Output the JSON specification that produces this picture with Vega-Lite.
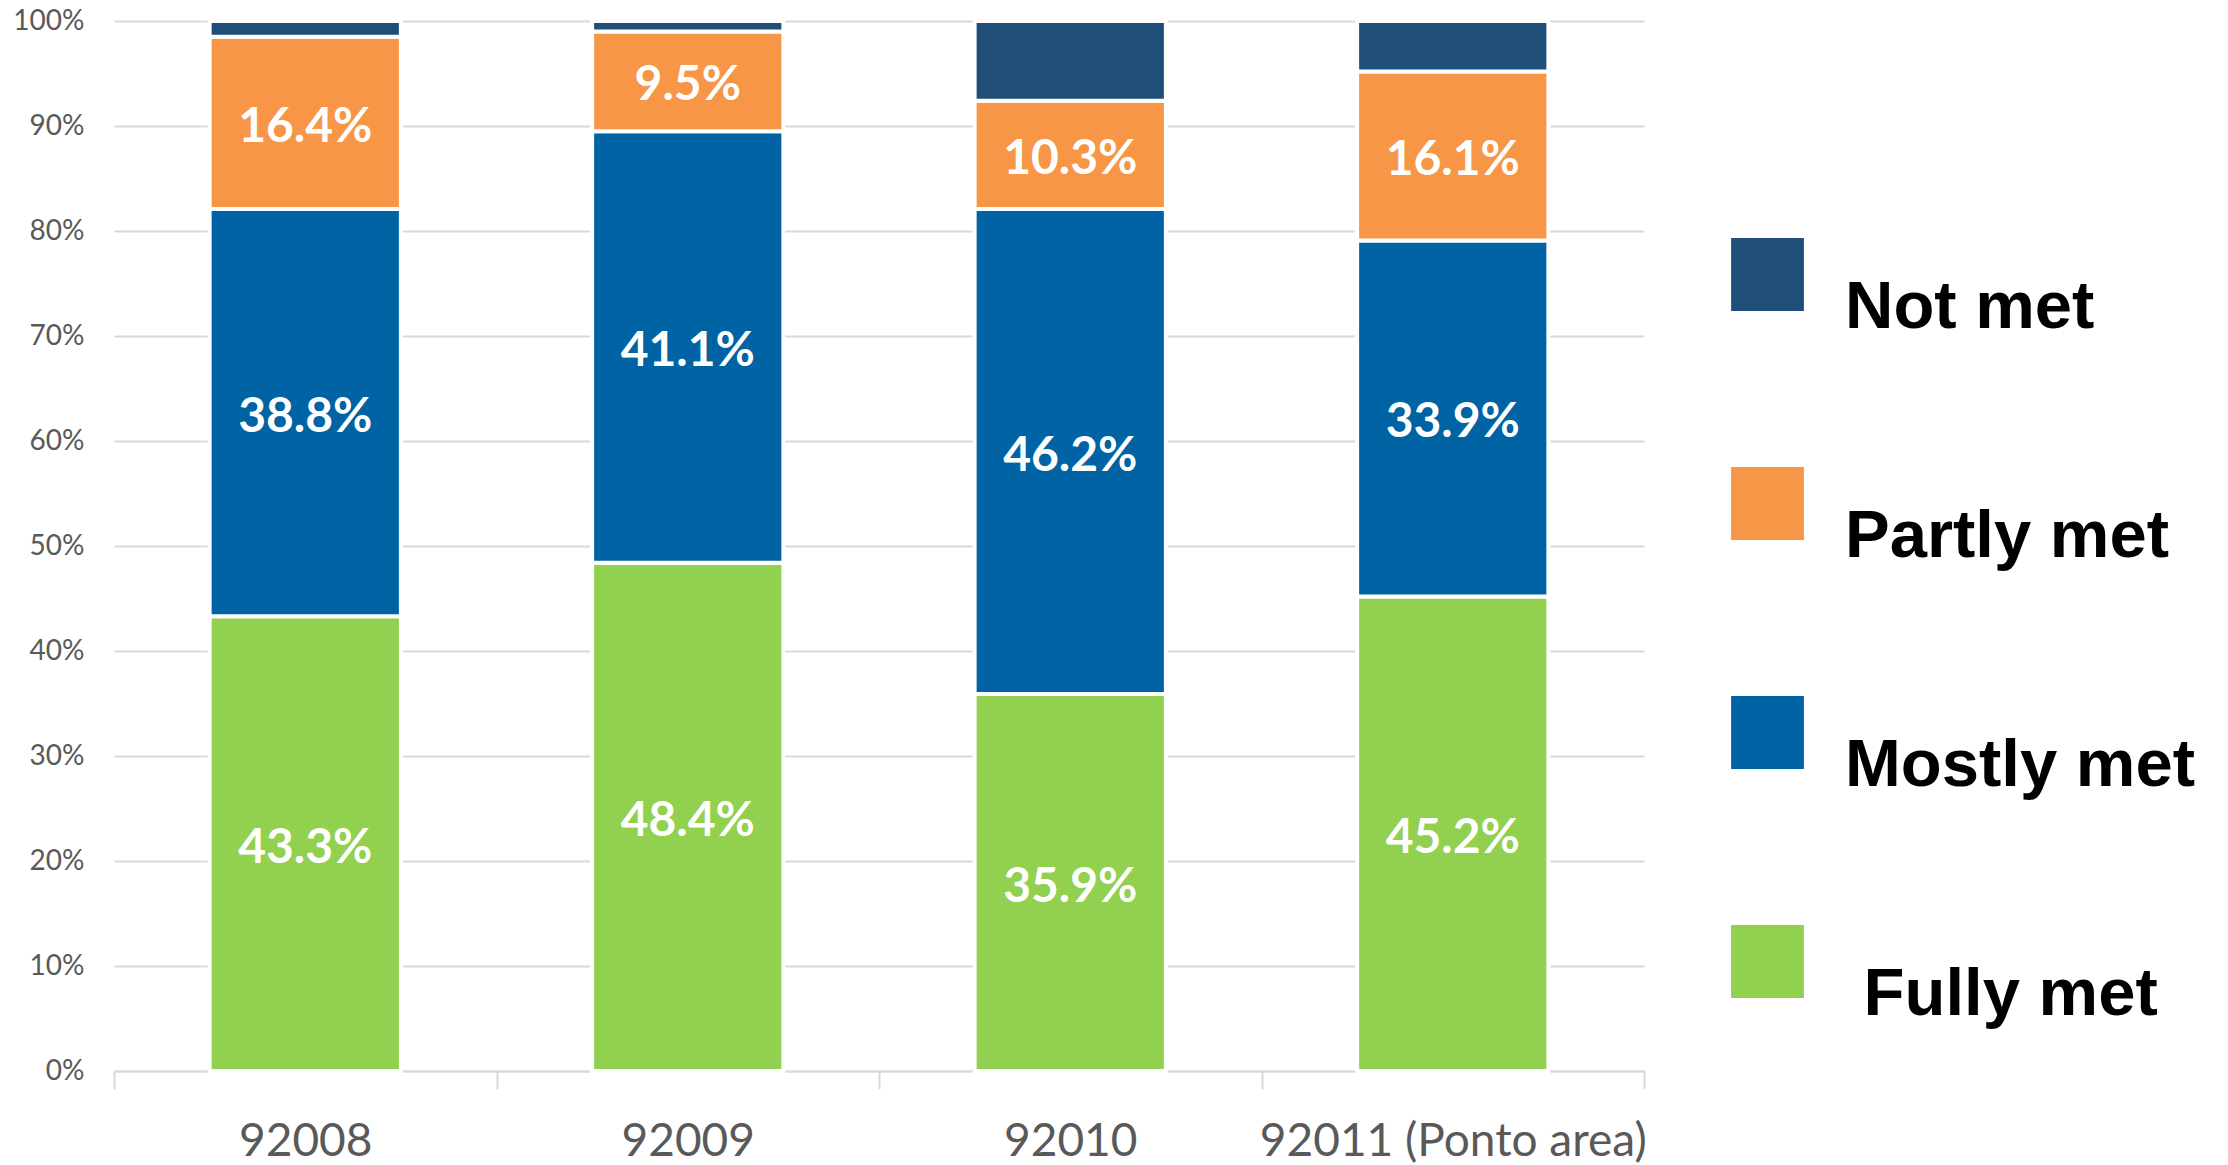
{
  "$schema": "https://vega.github.io/schema/vega-lite/v6.json",
  "autosize": "none",
  "width": 1530,
  "height": 1050,
  "padding": {"left": 114, "top": 21, "right": 584, "bottom": 94},
  "background": "white",
  "config": {"view": {"stroke": null}},
  "data": {"values": [
    {"zip": "92008", "cat": "Fully met", "rank": 1, "v": 0.433},
    {"zip": "92008", "cat": "Mostly met", "rank": 2, "v": 0.388},
    {"zip": "92008", "cat": "Partly met", "rank": 3, "v": 0.164},
    {"zip": "92008", "cat": "Not met", "rank": 4, "v": 0.015},
    {"zip": "92009", "cat": "Fully met", "rank": 1, "v": 0.484},
    {"zip": "92009", "cat": "Mostly met", "rank": 2, "v": 0.411},
    {"zip": "92009", "cat": "Partly met", "rank": 3, "v": 0.095},
    {"zip": "92009", "cat": "Not met", "rank": 4, "v": 0.010},
    {"zip": "92010", "cat": "Fully met", "rank": 1, "v": 0.359},
    {"zip": "92010", "cat": "Mostly met", "rank": 2, "v": 0.462},
    {"zip": "92010", "cat": "Partly met", "rank": 3, "v": 0.103},
    {"zip": "92010", "cat": "Not met", "rank": 4, "v": 0.076},
    {"zip": "92011 (Ponto area)", "cat": "Fully met", "rank": 1, "v": 0.452},
    {"zip": "92011 (Ponto area)", "cat": "Mostly met", "rank": 2, "v": 0.339},
    {"zip": "92011 (Ponto area)", "cat": "Partly met", "rank": 3, "v": 0.161},
    {"zip": "92011 (Ponto area)", "cat": "Not met", "rank": 4, "v": 0.048}
  ]},
  "encoding": {
    "x": {
      "field": "zip", "type": "nominal", "sort": null,
      "scale": {"paddingInner": 0, "paddingOuter": 0},
      "axis": {
        "title": null, "labelAngle": 0, "labelFont": "Lato", "labelFontSize": 46,
        "labelColor": "#595959", "labelPadding": 30, "tickBand": "extent", "labelLimit": 0,
        "tickColor": "#d9d9d9", "tickWidth": 2, "tickSize": 18,
        "domainColor": "#d9d9d9", "domainWidth": 2, "grid": false
      }
    }
  },
  "layer": [
    {
      "mark": {"type": "bar", "stroke": "white", "strokeWidth": 4, "width": {"band": 0.5}},
      "encoding": {
        "y": {
          "field": "v", "type": "quantitative", "stack": "zero",
          "scale": {"domain": [0, 1], "nice": false},
          "axis": {
            "title": null, "values": [0, 0.1, 0.2, 0.3, 0.4, 0.5, 0.6, 0.7, 0.8, 0.9, 1],
            "format": ".0%", "labelFont": "Lato", "labelFontSize": 28, "labelColor": "#595959",
            "labelPadding": 30, "ticks": false, "domain": false,
            "grid": true, "gridColor": "#d9d9d9", "gridWidth": 2
          }
        },
        "order": {"field": "rank", "type": "quantitative"},
        "color": {
          "field": "cat", "type": "nominal",
          "scale": {
            "domain": ["Not met", "Partly met", "Mostly met", "Fully met"],
            "range": ["#1f4e79", "#f79646", "#0063a3", "#92d050"]
          },
          "legend": {
            "title": null, "orient": "none", "legendX": 1617, "legendY": 217,
            "symbolType": "square", "symbolSize": 5300, "symbolStrokeWidth": 0,
            "labelFont": "Liberation Sans", "labelFontSize": 67, "labelFontWeight": "bold",
            "labelColor": "black", "labelOffset": 41, "rowPadding": 126,
            "labelBaseline": "top", "padding": 0, "labelLimit": 0,
            "labelExpr": "datum.value == 'Fully met' ? '\u200d Fully met' : datum.label"
          }
        }
      }
    },
    {
      "transform": [{"filter": "datum.cat != 'Not met'"}],
      "mark": {"type": "text", "font": "Lato", "fontSize": 48, "fontWeight": "bold", "color": "white", "baseline": "middle", "dy": 5},
      "encoding": {
        "y": {"field": "v", "type": "quantitative", "stack": "zero", "bandPosition": 0.5},
        "order": {"field": "rank", "type": "quantitative"},
        "detail": {"field": "cat"},
        "text": {"field": "v", "type": "quantitative", "format": ".1%"}
      }
    }
  ]
}
